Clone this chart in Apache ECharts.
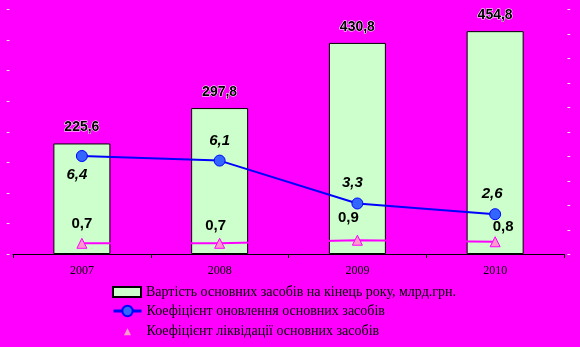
<!DOCTYPE html>
<html>
<head>
<meta charset="utf-8">
<script src="https://cdn.jsdelivr.net/npm/echarts@6/dist/echarts.min.js"></script>
<style>html,body{margin:0;padding:0;background:#FF00FF;}#c{width:580px;height:347px;}</style>
</head>
<body>
<div id="c"></div>
<script>
const categories = ['2007', '2008', '2009', '2010'];
const assetValue = [225.6, 297.8, 430.8, 454.8];
const renewalRate = [6.4, 6.1, 3.3, 2.6];
const liquidationRate = [0.7, 0.7, 0.9, 0.8];
const seriesNames = [
  'Вартість основних засобів на кінець року, млрд.грн.',
  'Коефіцієнт оновлення основних засобів',
  'Коефіцієнт ліквідації основних засобів'
];
const fmt = v => String(v.toFixed(1)).replace('.', ',');

// label offsets (style only)
const renewalOffsets = [[-5, 19], [0, -20], [-5, -21], [-3, -20]];
const liquidationOffsets = [[0, -19], [-4, -17], [-9, -22], [8, -15]];

const legendText = {fontFamily: 'Liberation Serif', fontSize: 14, color: '#000'};

const chart = echarts.init(document.getElementById('c'), null, {renderer: 'canvas'});
chart.setOption({
  backgroundColor: '#FF00FF',
  animation: false,
  grid: {left: 13, right: 16, top: 9, bottom: 93, containLabel: false},
  legend: [
    {
      orient: 'vertical', left: 112, top: 285, padding: 0,
      itemWidth: 28, itemHeight: 10, itemGap: 5,
      textStyle: legendText,
      data: [{name: seriesNames[0], icon: 'rect'}]
    },
    {
      orient: 'vertical', left: 112, top: 304, padding: 0, height: 43,
      itemWidth: 28, itemHeight: 13, itemGap: 6,
      textStyle: legendText,
      lineStyle: {width: 3},
      data: [{name: seriesNames[1]}, {name: seriesNames[2]}]
    }
  ],
  xAxis: {
    type: 'category', data: categories, boundaryGap: true,
    axisLine: {lineStyle: {color: '#000', width: 1}},
    axisTick: {show: true, length: 4, lineStyle: {color: '#000'}},
    axisLabel: {margin: 11, fontFamily: 'Liberation Serif', fontSize: 12, color: '#000'}
  },
  yAxis: [
    {
      type: 'value', min: 0, max: 16, interval: 2, position: 'left',
      axisLine: {show: false}, axisTick: {show: false}, splitLine: {show: false},
      axisLabel: {margin: 3, formatter: () => '-', color: '#fff', fontSize: 11, fontFamily: 'Liberation Sans'}
    },
    {
      type: 'value', min: 0, max: 500, interval: 50, position: 'right',
      axisLine: {show: false}, axisTick: {show: false}, splitLine: {show: false},
      axisLabel: {margin: 3, formatter: () => '-', color: '#fff', fontSize: 11, fontFamily: 'Liberation Sans'}
    }
  ],
  series: [
    {
      name: seriesNames[0], type: 'bar', yAxisIndex: 1, barWidth: 57,
      data: assetValue,
      itemStyle: {color: '#CCFFCC', borderColor: '#000', borderWidth: 1},
      label: {
        show: true, position: 'top', distance: 9,
        formatter: p => fmt(p.value),
        fontFamily: 'Liberation Sans', fontWeight: 'bold', fontSize: 14,
        color: '#000', textBorderColor: '#fff', textBorderWidth: 1
      },
      z: 1
    },
    {
      name: seriesNames[1], type: 'line', yAxisIndex: 0,
      data: renewalRate.map((v, i) => ({
        value: v,
        label: {offset: renewalOffsets[i]}
      })),
      symbol: 'circle', symbolSize: 11,
      lineStyle: {color: '#0000FF', width: 2},
      itemStyle: {color: '#3366FF', borderColor: '#0000FF', borderWidth: 1},
      label: {
        show: true, position: 'inside',
        formatter: p => fmt(p.value),
        fontFamily: 'Liberation Sans', fontWeight: 'bold', fontStyle: 'italic', fontSize: 15,
        color: '#000'
      },
      z: 3
    },
    {
      name: seriesNames[2], type: 'line', yAxisIndex: 0,
      data: liquidationRate.map((v, i) => ({
        value: v,
        label: {offset: liquidationOffsets[i]}
      })),
      symbol: 'triangle', symbolSize: 10,
      lineStyle: {color: '#FF00FF', width: 2},
      itemStyle: {color: '#FF99CC', borderColor: '#FF00FF', borderWidth: 1},
      label: {
        show: true, position: 'inside',
        formatter: p => fmt(p.value),
        fontFamily: 'Liberation Sans', fontWeight: 'bold', fontSize: 15,
        color: '#000'
      },
      z: 3
    }
  ]
});
</script>
</body>
</html>
